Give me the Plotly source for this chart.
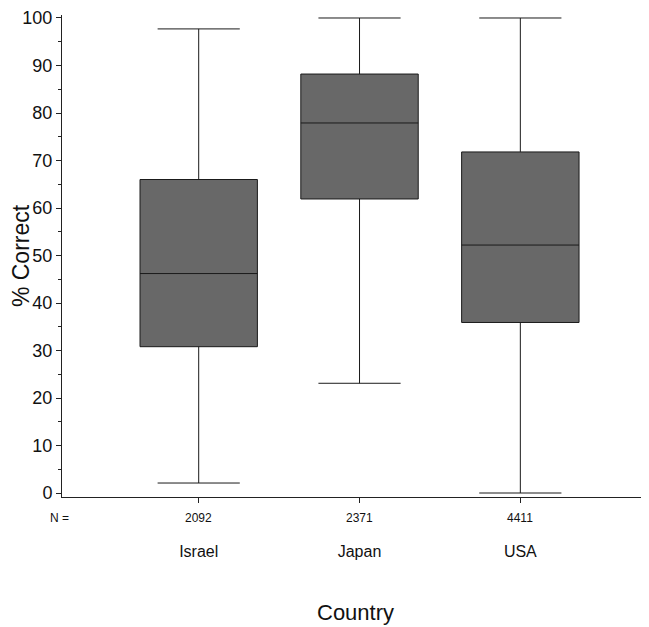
import plotly.graph_objects as go

countries = ["Israel", "Japan", "USA"]
n_values = [2092, 2371, 4411]
lower_whisker = [2.1, 23.1, 0.0]
q1 = [30.8, 61.9, 35.9]
median = [46.2, 77.9, 52.2]
q3 = [66.0, 88.2, 71.8]
upper_whisker = [97.7, 100.0, 100.0]

FONT = "Liberation Sans, Arial, sans-serif"

fig = go.Figure()
fig.add_trace(go.Box(
    x=countries,
    q1=q1, median=median, q3=q3,
    lowerfence=lower_whisker, upperfence=upper_whisker,
    fillcolor="#686868",
    line=dict(color="#1a1a1a", width=1),
    width=0.73,
    whiskerwidth=0.7,
    boxpoints=False,
    showlegend=False,
    hoverinfo="skip",
))

annotations = [
    dict(x=c, y=-0.044, xref="x", yref="paper", text=str(n), showarrow=False,
         font=dict(family=FONT, size=12, color="#111"), yanchor="middle")
    for c, n in zip(countries, n_values)
]
annotations.append(dict(x=-0.005, y=-0.044, xref="paper", yref="paper", text="N =",
                        showarrow=False, xanchor="center",
                        font=dict(family=FONT, size=12, color="#111"), yanchor="middle"))
annotations.append(dict(x=0.5, y=-0.24, xref="paper", yref="paper", text="Country",
                        showarrow=False, xanchor="center", yanchor="middle",
                        font=dict(family=FONT, size=22, color="#111")))

fig.update_layout(
    width=641, height=619,
    margin=dict(l=54, r=0, t=7, b=130),
    paper_bgcolor="white", plot_bgcolor="white",
    font=dict(family=FONT, color="#111"),
    annotations=annotations,
    xaxis=dict(
        type="category",
        range=[-0.85, 2.8],
        automargin=False,
        showline=True, linecolor="#222", linewidth=1,
        ticks="outside", ticklen=5, tickcolor="#222",
        tickfont=dict(family=FONT, size=16, color="#111"),
        ticklabelstandoff=35,
        showgrid=False, zeroline=False,
    ),
    yaxis=dict(
        range=[-0.84, 100.63],
        automargin=False,
        tickvals=list(range(0, 101, 10)),
        ticklabeloverflow="allow",
        showline=True, linecolor="#222", linewidth=1,
        ticks="outside", ticklen=5, tickcolor="#222",
        minor=dict(tickvals=list(range(5, 100, 10)), ticks="outside", ticklen=3, tickcolor="#222"),
        tickfont=dict(family=FONT, size=18, color="#111"),
        showgrid=False, zeroline=False,
        title=dict(text="% Correct", font=dict(family=FONT, size=23, color="#111"), standoff=1),
    ),
)

fig.write_html("out.html")
